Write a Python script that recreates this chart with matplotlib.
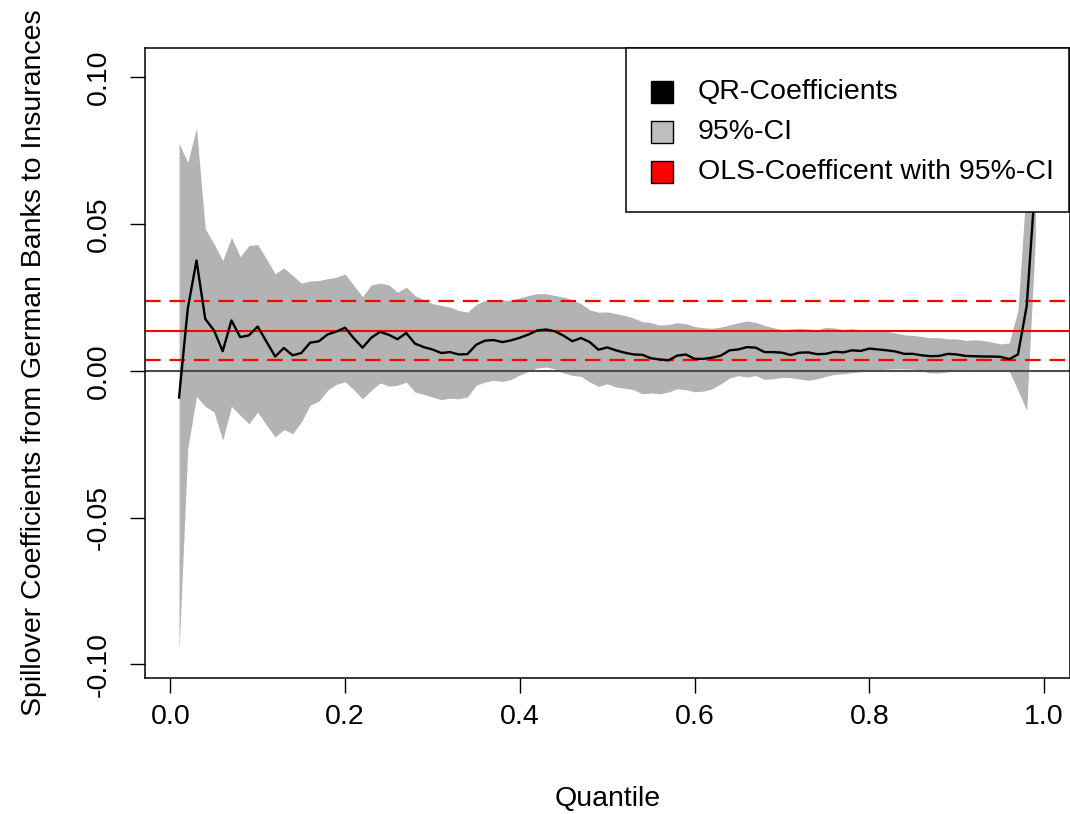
import numpy as np
import matplotlib
matplotlib.use("Agg")
import matplotlib.pyplot as plt
from matplotlib.patches import Rectangle

plt.rcParams['font.family'] = ['Liberation Sans', 'DejaVu Sans']

# quantiles 0.01 ... 0.99
quantiles = np.round(np.arange(1, 100) / 100, 2)

qr_coef = [
    -0.0091, 0.0212, 0.0376, 0.0177, 0.0138, 0.0067, 0.0172, 0.0115, 0.0121, 0.0151,
    0.0100, 0.0049, 0.0078, 0.0053, 0.0061, 0.0096, 0.0101, 0.0124, 0.0134, 0.0147,
    0.0111, 0.0079, 0.0113, 0.0133, 0.0123, 0.0108, 0.0129, 0.0093, 0.0081, 0.0073,
    0.0061, 0.0064, 0.0056, 0.0057, 0.0089, 0.0103, 0.0105, 0.0098, 0.0104, 0.0113,
    0.0124, 0.0138, 0.0141, 0.0135, 0.0120, 0.0101, 0.0112, 0.0098, 0.0072, 0.0080,
    0.0070, 0.0062, 0.0056, 0.0055, 0.0043, 0.0039, 0.0036, 0.0052, 0.0056, 0.0041,
    0.0041, 0.0045, 0.0052, 0.0070, 0.0073, 0.0081, 0.0079, 0.0064, 0.0064, 0.0062,
    0.0054, 0.0062, 0.0063, 0.0057, 0.0058, 0.0065, 0.0063, 0.0070, 0.0068, 0.0076,
    0.0073, 0.0070, 0.0066, 0.0058, 0.0058, 0.0053, 0.0050, 0.0051, 0.0058, 0.0056,
    0.0051, 0.0050, 0.0049, 0.0049, 0.0048, 0.0040, 0.0056, 0.0220, 0.0650,
]

ci_upper = [
    0.0775, 0.0710, 0.0827, 0.0484, 0.0433, 0.0376, 0.0455, 0.0389, 0.0427, 0.0430,
    0.0382, 0.0331, 0.0351, 0.0325, 0.0299, 0.0306, 0.0308, 0.0314, 0.0319, 0.0330,
    0.0291, 0.0253, 0.0293, 0.0299, 0.0293, 0.0268, 0.0285, 0.0257, 0.0242, 0.0229,
    0.0223, 0.0217, 0.0206, 0.0200, 0.0226, 0.0240, 0.0243, 0.0240, 0.0241, 0.0249,
    0.0257, 0.0263, 0.0263, 0.0257, 0.0251, 0.0242, 0.0229, 0.0208, 0.0200, 0.0201,
    0.0195, 0.0189, 0.0180, 0.0168, 0.0164, 0.0156, 0.0158, 0.0164, 0.0161, 0.0151,
    0.0147, 0.0145, 0.0149, 0.0157, 0.0164, 0.0170, 0.0165, 0.0155, 0.0147, 0.0141,
    0.0143, 0.0145, 0.0143, 0.0140, 0.0148, 0.0146, 0.0141, 0.0144, 0.0140, 0.0141,
    0.0138, 0.0135, 0.0129, 0.0123, 0.0121, 0.0117, 0.0113, 0.0113, 0.0109, 0.0109,
    0.0104, 0.0106, 0.0104, 0.0098, 0.0092, 0.0095, 0.0206, 0.0650, 0.1300,
]

ci_lower = [
    -0.0957, -0.0264, -0.0087, -0.0121, -0.0140, -0.0236, -0.0121, -0.0151, -0.0180, -0.0140,
    -0.0185, -0.0225, -0.0200, -0.0214, -0.0174, -0.0117, -0.0103, -0.0066, -0.0046, -0.0037,
    -0.0064, -0.0095, -0.0066, -0.0041, -0.0052, -0.0049, -0.0038, -0.0072, -0.0080, -0.0089,
    -0.0098, -0.0093, -0.0095, -0.0089, -0.0049, -0.0038, -0.0032, -0.0036, -0.0029, -0.0014,
    -0.0001, 0.0010, 0.0013, 0.0007, -0.0007, -0.0015, -0.0019, -0.0038, -0.0053, -0.0044,
    -0.0055, -0.0059, -0.0064, -0.0078, -0.0075, -0.0078, -0.0072, -0.0061, -0.0064, -0.0071,
    -0.0069, -0.0061, -0.0044, -0.0024, -0.0016, -0.0021, -0.0016, -0.0029, -0.0027, -0.0022,
    -0.0023, -0.0028, -0.0032, -0.0027, -0.0019, -0.0012, -0.0010, -0.0006, -0.0003, -0.0001,
    0.0002, 0.0006, 0.0007, 0.0007, 0.0006, -0.0001, -0.0007, -0.0007, -0.0003, 0.0002,
    0.0004, 0.0005, 0.0003, 0.0002, 0.0001, 0.0000, -0.0067, -0.0134, 0.0450,
]

ols_coef = 0.0137
ols_lower = 0.0036
ols_upper = 0.0238

x_ticks = [0.0, 0.2, 0.4, 0.6, 0.8, 1.0]
y_ticks = [-0.10, -0.05, 0.00, 0.05, 0.10]

legend_labels = ['QR-Coefficients', '95%-CI', 'OLS-Coefficent with 95%-CI']
legend_colors = ['black', '#bebebe', 'red']

W, H = 1070, 814
fig = plt.figure(figsize=(W / 100, H / 100), dpi=100)
ax = fig.add_axes([0.1353, 0.1671, 0.8644, 0.7740])

ax.fill_between(quantiles, ci_lower, ci_upper, color='#b3b3b3', linewidth=0, zorder=1)
ax.plot(quantiles, qr_coef, color='black', linewidth=1.7, zorder=3)

ax.axhline(0, color='#4d4d4d', linewidth=1.5, zorder=2)
ax.axhline(ols_coef, color='red', linewidth=1.5, zorder=2)
for v in (ols_lower, ols_upper):
    ax.axhline(v, color='red', linewidth=1.6, linestyle=(0, (7, 4)), zorder=2)

ax.set_xlim(-0.0292, 1.0292)
ax.set_ylim(-0.1046, 0.1100)
ax.set_xticks(x_ticks)
ax.set_xticklabels(['0.0', '0.2', '0.4', '0.6', '0.8', '1.0'])
ax.set_yticks(y_ticks)
ax.set_yticklabels(['-0.10', '-0.05', '0.00', '0.05', '0.10'])

fs = 20.5
ax.tick_params(axis='both', direction='out', length=11, width=1, labelsize=fs)
ax.tick_params(axis='x', pad=8)
ax.tick_params(axis='y', pad=13, labelrotation=90)
for lab in ax.get_yticklabels():
    lab.set_va('center')

for sp in ax.spines.values():
    sp.set_color('black')
    sp.set_linewidth(1.1)

ax.set_xlabel('Quantile', fontsize=fs, labelpad=40)
ax.set_ylabel('Spillover Coefficients from German Banks to Insurances', fontsize=fs, labelpad=28)

# legend box drawn by hand (R style: square keys, plain frame)
def fx(px):
    return px / W

def fy(py):
    return 1 - py / H

fig.patches.append(Rectangle((fx(626), fy(212)), fx(1069) - fx(626), fy(48) - fy(212),
                             transform=fig.transFigure, facecolor='white',
                             edgecolor='black', linewidth=1.1, zorder=5))
for i, (lab, col) in enumerate(zip(legend_labels, legend_colors)):
    cy = 92 + 40 * i
    fig.patches.append(Rectangle((fx(651), fy(cy + 11)), fx(673) - fx(651), fy(cy - 11) - fy(cy + 11),
                                 transform=fig.transFigure, facecolor=col,
                                 edgecolor='black', linewidth=1, zorder=6))
    fig.text(fx(698), fy(cy), lab, fontsize=fs, va='center', ha='left', zorder=6)

fig.savefig('out.png', dpi=100)
